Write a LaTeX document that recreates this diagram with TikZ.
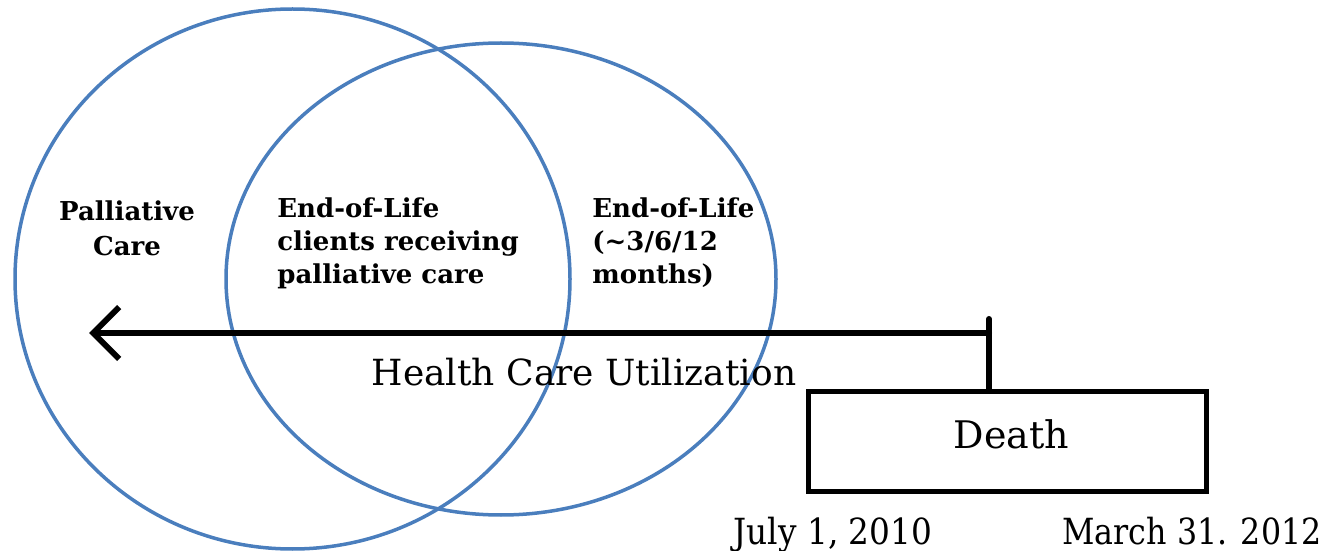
\documentclass[tikz,border=0pt]{standalone}
\usepackage{fontspec}
\usepackage{graphicx}
\setmainfont{DejaVu Serif}
\usetikzlibrary{shapes.geometric,arrows.meta}
\definecolor{vblue}{RGB}{74,126,189}
\begin{document}
\begin{tikzpicture}[x=0.5pt,y=-0.5pt,
  venn/.style={draw=vblue,line width=1.75pt,shape=ellipse,inner sep=0pt},
  boldlbl/.style={font=\fontsize{13pt}{16.5pt}\selectfont\bfseries,inner sep=0pt},
  thickline/.style={line width=3pt,black,line cap=round},
  deathbox/.style={draw,line width=2.5pt,minimum width=199pt,minimum height=50pt,inner sep=0pt,text height=10pt,text depth=3.5pt},
  datelbl/.style={font=\fontsize{18pt}{21pt}\selectfont,inner sep=0pt,anchor=base}]
\useasboundingbox (0,0) rectangle (1330,551);
\node[venn,minimum width=277.5pt,minimum height=270pt] (pc) at (292.5,279) {};
\node[venn,minimum width=275pt,minimum height=236pt] (eol) at (501,279) {};
\node[boldlbl,align=center] (pctxt) at (127,228) {Palliative\\[1pt]Care};
\node[boldlbl,align=left,anchor=west] (midtxt) at (277,243) {End-of-Life\\clients receiving\\palliative care};
\node[boldlbl,align=left,anchor=west] (eoltxt) at (592,243) {End-of-Life\\(\textasciitilde3/6/12\\months)};
\node[deathbox] (death) at (1007.5,441.5) {\hspace*{4pt}\fontsize{19pt}{22pt}\selectfont Death};
\coordinate (tick) at (989,319);
\coordinate (corner) at (989,333);
\coordinate (tip) at (89,333);
\draw[thickline] (death.north -| tick) -- (tick);
\draw[thickline,-{Straight Barb[length=13pt,width=26pt,line width=3pt]}] (corner) -- (tip);
\node[font=\fontsize{18pt}{21pt}\selectfont,inner sep=0pt,anchor=base] (hcu) at (584,386) {Health Care Utilization};
\node[datelbl] (d1) at (833,544) {\scalebox{0.91}[1]{July 1, 2010}};
\node[datelbl] (d2) at (1192,544) {\scalebox{0.88}[1]{March 31. 2012}};
\end{tikzpicture}
\end{document}
